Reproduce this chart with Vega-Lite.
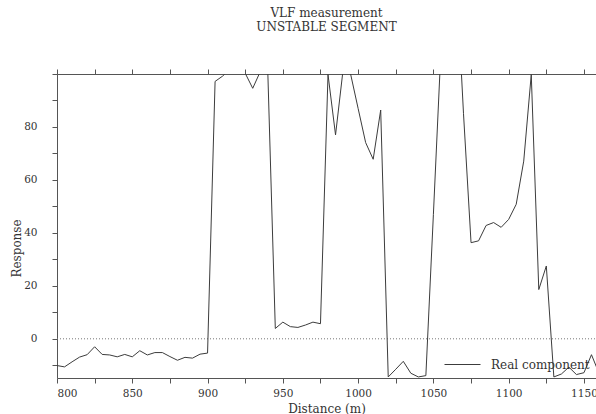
{
  "$schema": "https://vega.github.io/schema/vega-lite/v6.json",
  "width": 539,
  "height": 304,
  "autosize": {"type": "none"},
  "padding": {"left": 57, "top": 74, "right": 0, "bottom": 36},
  "background": "white",
  "title": {
    "text": ["VLF measurement", "UNSTABLE SEGMENT"],
    "font": "DejaVu Serif",
    "fontSize": 12,
    "fontWeight": "normal",
    "color": "#333333",
    "anchor": "middle",
    "lineHeight": 14,
    "offset": 35
  },
  "config": {
    "view": {"stroke": null},
    "axis": {
      "grid": false,
      "domainColor": "#555555",
      "tickColor": "#555555",
      "labelColor": "#333333",
      "titleColor": "#333333",
      "labelFont": "DejaVu Serif",
      "titleFont": "DejaVu Serif",
      "labelFontSize": 10.5,
      "titleFontSize": 12,
      "titleFontWeight": "normal",
      "tickSize": 5
    }
  },
  "layer": [
    {
      "data": {"values": [{"from": 800, "to": 1160}]},
      "mark": {"type": "rule", "clip": true, "color": "#777777", "strokeWidth": 1, "strokeDash": [1, 2]},
      "encoding": {
        "x": {
          "field": "from",
          "type": "quantitative",
          "scale": {"domain": [800, 1158], "nice": false, "zero": false},
          "axis": {
            "orient": "top",
            "title": null,
            "labels": false,
            "values": [800, 825, 850, 875, 900, 925, 950, 975, 1000, 1025, 1050, 1075, 1100, 1125, 1150]
          }
        },
        "x2": {"field": "to"},
        "y": {"datum": 0, "type": "quantitative", "axis": null}
      }
    },
    {
      "data": {
        "values": [
          {"distance": 800, "response": -10.1},
          {"distance": 805, "response": -10.6},
          {"distance": 810, "response": -8.7},
          {"distance": 815, "response": -6.9},
          {"distance": 820, "response": -6.0},
          {"distance": 825, "response": -3.0},
          {"distance": 830, "response": -5.9},
          {"distance": 835, "response": -6.1},
          {"distance": 840, "response": -6.8},
          {"distance": 845, "response": -5.9},
          {"distance": 850, "response": -6.8},
          {"distance": 855, "response": -4.5},
          {"distance": 860, "response": -6.1},
          {"distance": 865, "response": -5.2},
          {"distance": 870, "response": -5.2},
          {"distance": 875, "response": -6.7},
          {"distance": 880, "response": -8.1},
          {"distance": 885, "response": -7.0},
          {"distance": 890, "response": -7.3},
          {"distance": 895, "response": -5.8},
          {"distance": 900, "response": -5.4},
          {"distance": 905, "response": 97.2},
          {"distance": 910, "response": 99.2},
          {"distance": 915, "response": 102},
          {"distance": 920, "response": 103},
          {"distance": 925, "response": 100.3},
          {"distance": 930, "response": 94.6},
          {"distance": 935, "response": 100.9},
          {"distance": 940, "response": 101},
          {"distance": 945, "response": 3.9},
          {"distance": 950, "response": 6.3},
          {"distance": 955, "response": 4.6},
          {"distance": 960, "response": 4.3},
          {"distance": 965, "response": 5.2},
          {"distance": 970, "response": 6.3},
          {"distance": 975, "response": 5.7},
          {"distance": 980, "response": 99.8},
          {"distance": 985, "response": 77},
          {"distance": 990, "response": 101.5},
          {"distance": 995, "response": 100},
          {"distance": 1000, "response": 87},
          {"distance": 1005, "response": 74.1},
          {"distance": 1010, "response": 67.8},
          {"distance": 1015, "response": 86.4},
          {"distance": 1020, "response": -14.4},
          {"distance": 1025, "response": -11.5},
          {"distance": 1030, "response": -8.5},
          {"distance": 1035, "response": -13.0},
          {"distance": 1040, "response": -14.4},
          {"distance": 1045, "response": -13.9},
          {"distance": 1050, "response": 47},
          {"distance": 1055, "response": 109},
          {"distance": 1060, "response": 120},
          {"distance": 1065, "response": 140},
          {"distance": 1070, "response": 85},
          {"distance": 1075, "response": 36.3},
          {"distance": 1080, "response": 37},
          {"distance": 1085, "response": 42.8},
          {"distance": 1090, "response": 43.9},
          {"distance": 1095, "response": 42.1},
          {"distance": 1100, "response": 45.1},
          {"distance": 1105, "response": 50.8},
          {"distance": 1110, "response": 67.1},
          {"distance": 1115, "response": 99.8},
          {"distance": 1120, "response": 18.6},
          {"distance": 1125, "response": 27.5},
          {"distance": 1130, "response": -14.4},
          {"distance": 1135, "response": -13.3},
          {"distance": 1140, "response": -10.7},
          {"distance": 1145, "response": -13.5},
          {"distance": 1150, "response": -12.8},
          {"distance": 1155, "response": -6.0},
          {"distance": 1160, "response": -13.0}
        ]
      },
      "mark": {"type": "line", "clip": true, "strokeWidth": 1},
      "encoding": {
        "x": {
          "field": "distance",
          "type": "quantitative",
          "axis": {
            "orient": "bottom",
            "title": "Distance (m)",
            "format": "d",
            "values": [800, 825, 850, 875, 900, 925, 950, 975, 1000, 1025, 1050, 1075, 1100, 1125, 1150],
            "labelExpr": "datum.value % 50 == 0 ? datum.label : ''",
            "labelPadding": 5,
            "titleBaseline": "top",
            "titleY": 25
          }
        },
        "y": {
          "field": "response",
          "type": "quantitative",
          "scale": {"domain": [-14.8, 100], "nice": false, "zero": false},
          "axis": {
            "title": "Response",
            "format": "d",
            "values": [-10, 0, 10, 20, 30, 40, 50, 60, 70, 80, 90, 100],
            "labelExpr": "(datum.value == 0 || datum.value == 20 || datum.value == 40 || datum.value == 60 || datum.value == 80) ? datum.label : ''",
            "labelPadding": 15,
            "titleAngle": -90,
            "titleAlign": "center",
            "titleBaseline": "alphabetic",
            "titleX": -37,
            "titleY": 174
          }
        },
        "color": {
          "datum": "Real component",
          "type": "nominal",
          "scale": {"range": ["#3c3c3c"]},
          "legend": {
            "title": null,
            "orient": "none",
            "legendX": 387,
            "legendY": 272,
            "padding": 0,
            "symbolType": "stroke",
            "symbolSize": 1296,
            "symbolStrokeWidth": 1,
            "labelOffset": 10,
            "labelFont": "DejaVu Serif",
            "labelFontSize": 12,
            "labelColor": "#333333"
          }
        }
      }
    }
  ],
  "resolve": {"axis": {"x": "independent", "y": "independent"}}
}
